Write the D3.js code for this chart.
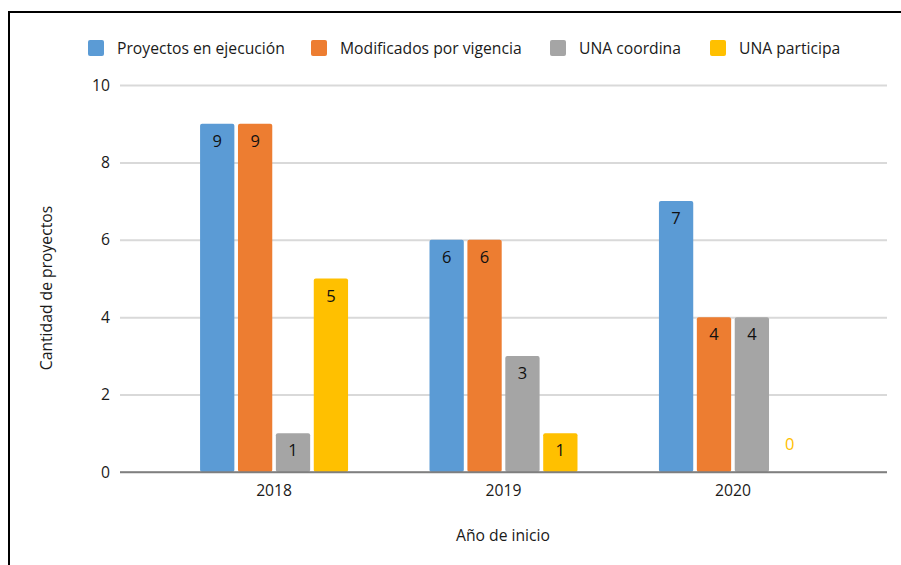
<!DOCTYPE html>
<html>
<head>
<meta charset="utf-8">
<script src="https://cdn.jsdelivr.net/npm/d3@7"></script>
<style>
  html, body { margin: 0; padding: 0; background: #fff; }
  svg { display: block; font-family: "Open Sans", "Noto Sans", sans-serif; }
</style>
</head>
<body>
<svg id="chart" width="901" height="565"></svg>
<script>
const categories = ["2018", "2019", "2020"];
const seriesNames = ["Proyectos en ejecución", "Modificados por vigencia", "UNA coordina", "UNA participa"];
const seriesColors = ["#5b9bd5", "#ed7d31", "#a5a5a5", "#ffc000"];
const proyectosEnEjecucion = [9, 6, 7];
const modificadosPorVigencia = [9, 6, 4];
const unaCoordina = [1, 3, 4];
const unaParticipa = [5, 1, 0];
const yTicks = [0, 2, 4, 6, 8, 10];
const xTitle = "Año de inicio";
const yTitle = "Cantidad de proyectos";

const seriesValues = [proyectosEnEjecucion, modificadosPorVigencia, unaCoordina, unaParticipa];
const data = categories.map((c, i) => ({
  cat: c,
  vals: seriesNames.map((s, j) => ({ key: s, idx: j, value: seriesValues[j][i] }))
}));

const svg = d3.select("#chart");
const FS = 15.7;

// frame
svg.append("path")
  .attr("d", "M9,566 L9,12 L902,12")
  .attr("fill", "none").attr("stroke", "#000").attr("stroke-width", 2);

const plotLeft = 120, plotRight = 887, plotTop = 85, plotBottom = 472;

const x0 = d3.scaleBand().domain(categories).range([plotLeft, plotRight])
  .paddingInner(0.355).paddingOuter(0.349);
const x1 = d3.scaleBand().domain(seriesNames).range([0, x0.bandwidth()]).paddingInner(0.095).paddingOuter(0);
const y = d3.scaleLinear().domain([0, 10]).range([plotBottom, plotTop]);

// gridlines
const yAxis = d3.axisLeft(y).tickValues(yTicks).tickSize(-(plotRight - plotLeft)).tickPadding(10);
const gy = svg.append("g").attr("transform", `translate(${plotLeft},0)`).call(yAxis);
gy.select(".domain").remove();
gy.selectAll(".tick line").attr("stroke", "#d9d9d9").attr("stroke-width", 2)
  .filter(d => d === 0).attr("stroke", "#7f7f7f").attr("stroke-width", 1.5);
gy.selectAll(".tick text").attr("font-size", FS).attr("fill", "#1a1a1a")
  .attr("font-family", "'Open Sans', sans-serif").attr("x", -10);

// bars
const groups = svg.append("g").selectAll("g").data(data).join("g")
  .attr("transform", d => `translate(${x0(d.cat)},0)`);

groups.selectAll("rect").data(d => d.vals.filter(v => v.value > 0)).join("rect")
  .attr("x", d => x1(d.key))
  .attr("y", d => y(d.value))
  .attr("width", x1.bandwidth())
  .attr("height", d => y(0) - y(d.value))
  .attr("rx", 2)
  .attr("fill", d => seriesColors[d.idx]);

// redraw zero baseline over bars
svg.append("line").attr("x1", plotLeft).attr("x2", plotRight)
  .attr("y1", y(0)).attr("y2", y(0)).attr("stroke", "#7f7f7f").attr("stroke-width", 1.5);

// value labels
groups.selectAll("text.val").data(d => d.vals).join("text")
  .attr("class", "val")
  .attr("x", d => x1(d.key) + x1.bandwidth() / 2)
  .attr("y", d => d.value > 0 ? y(d.value) + 23 : y(0) - 22)
  .attr("text-anchor", "middle")
  .attr("font-size", 16.5)
  .attr("fill", d => d.value > 0 ? "#111" : seriesColors[d.idx])
  .text(d => d.value);

// x axis labels
const xAxis = d3.axisBottom(x0).tickSize(0).tickPadding(13);
const gx = svg.append("g").attr("transform", `translate(0,${plotBottom})`).call(xAxis);
gx.select(".domain").remove();
gx.selectAll(".tick text").attr("font-size", FS).attr("fill", "#1a1a1a")
  .attr("font-family", "'Open Sans', sans-serif");

// axis titles
svg.append("text").attr("x", 503).attr("y", 541).attr("text-anchor", "middle")
  .attr("font-size", FS).attr("fill", "#1a1a1a").text(xTitle);
svg.append("text").attr("transform", "translate(52,288) rotate(-90)")
  .attr("text-anchor", "middle").attr("font-size", FS).attr("fill", "#1a1a1a").text(yTitle);

// legend
const legendX = [88, 311, 550, 710];
const lg = svg.append("g").selectAll("g").data(seriesNames).join("g")
  .attr("transform", (d, i) => `translate(${legendX[i]},40)`);
lg.append("rect").attr("width", 16).attr("height", 16).attr("rx", 2)
  .attr("fill", (d, i) => seriesColors[i]);
lg.append("text").attr("x", 29).attr("y", 13.5).attr("font-size", FS).attr("fill", "#1a1a1a").text(d => d);
</script>
</body>
</html>
